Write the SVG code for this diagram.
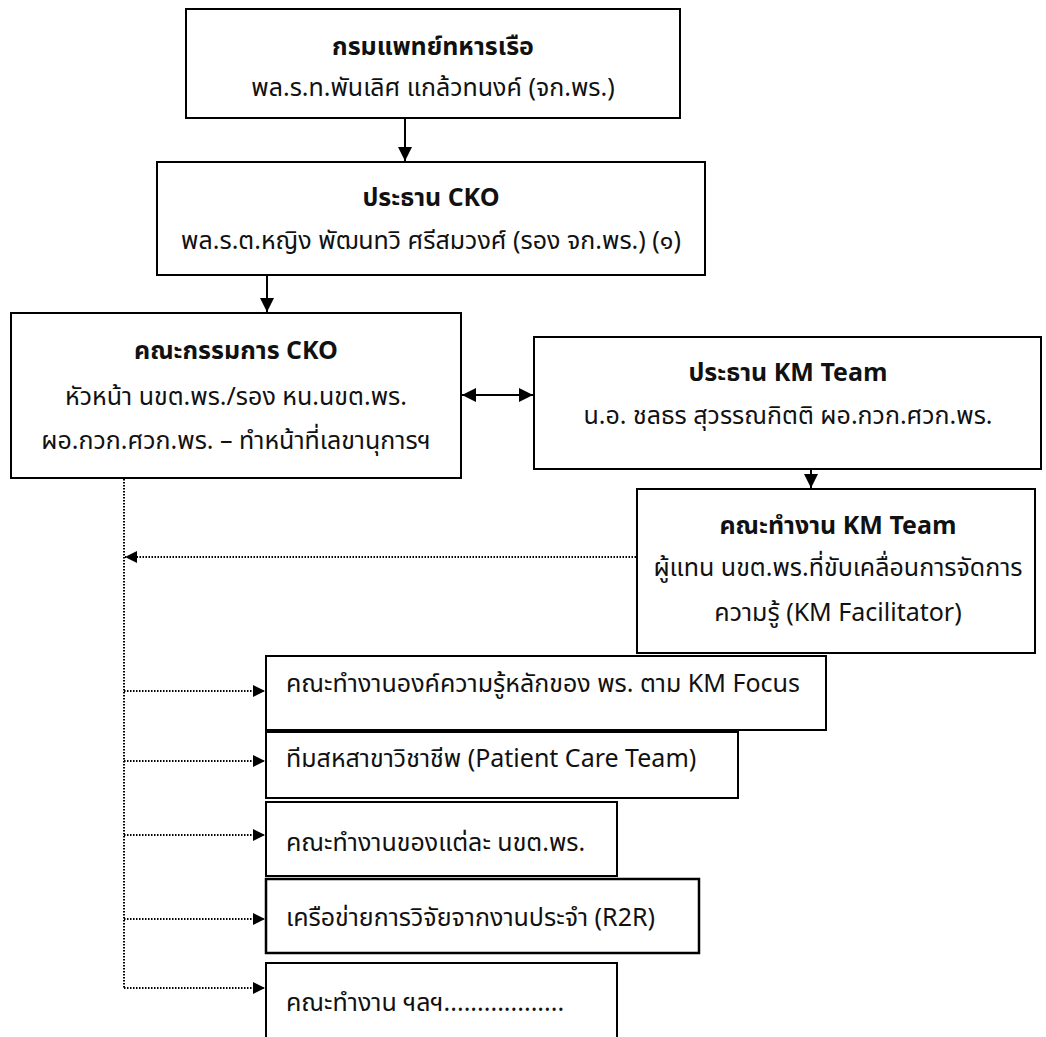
<svg xmlns="http://www.w3.org/2000/svg" width="1046" height="1037" viewBox="0 0 1046 1037">
<style>
  .box{fill:#fff;stroke:#000;stroke-width:2}
  .t{font-family:"Noto Sans Thai","Noto Sans","Open Sans",sans-serif;font-size:25px;fill:#111}
  .b{font-weight:bold}
  .c{text-anchor:middle}
  .solid{stroke:#000;stroke-width:2;fill:none}
  .dot{stroke:#000;stroke-width:2;stroke-dasharray:1.5 1.5;fill:none}
</style>
<defs>
  <marker id="ah" viewBox="0 0 10 10" refX="10" refY="5" markerWidth="7" markerHeight="7" markerUnits="strokeWidth" orient="auto-start-reverse">
    <path d="M0,0 L10,5 L0,10 z" fill="#000"/>
  </marker>
  <marker id="ahd" viewBox="0 0 10 10" refX="10" refY="5" markerWidth="6" markerHeight="6" markerUnits="strokeWidth" orient="auto">
    <path d="M0,0 L10,5 L0,10 z" fill="#000"/>
  </marker>
</defs>

<g id="n1">
  <rect class="box" x="186" y="9" width="494" height="109"/>
  <text class="t b c" x="433" y="55">กรมแพทย์ทหารเรือ</text>
  <text class="t c" x="433" y="96">พล.ร.ท.พันเลิศ  แกล้วทนงค์ (จก.พร.)</text>
</g>
<g id="n2">
  <rect class="box" x="157" y="162" width="548" height="113"/>
  <text class="t b c" x="431" y="206">ประธาน CKO</text>
  <text class="t c" x="431" y="249">พล.ร.ต.หญิง พัฒนทวิ ศรีสมวงศ์ (รอง จก.พร.) (๑)</text>
</g>
<g id="n3">
  <rect class="box" x="11" y="313" width="450" height="165"/>
  <text class="t b c" x="236" y="359">คณะกรรมการ CKO</text>
  <text class="t c" x="236" y="405">หัวหน้า นขต.พร./รอง หน.นขต.พร.</text>
  <text class="t c" x="236" y="449">ผอ.กวก.ศวก.พร. – ทำหน้าที่เลขานุการฯ</text>
</g>
<g id="n4">
  <rect class="box" x="534" y="337" width="507" height="132"/>
  <text class="t b c" x="788" y="381">ประธาน KM Team</text>
  <text class="t c" x="788" y="424">น.อ. ชลธร สุวรรณกิตติ ผอ.กวก.ศวก.พร.</text>
</g>
<g id="n5">
  <rect class="box" x="637" y="489" width="398" height="164"/>
  <text class="t b c" x="838" y="534">คณะทำงาน KM Team</text>
  <text class="t c" x="838" y="576">ผู้แทน นขต.พร.ที่ขับเคลื่อนการจัดการ</text>
  <text class="t c" x="838" y="621">ความรู้ (KM Facilitator)</text>
</g>
<g id="n6">
  <rect class="box" x="266" y="656" width="560" height="74"/>
  <text class="t" x="286" y="692">คณะทำงานองค์ความรู้หลักของ พร. ตาม KM Focus</text>
</g>
<g id="n7">
  <rect class="box" x="266" y="732" width="472" height="66"/>
  <text class="t" x="286" y="767">ทีมสหสาขาวิชาชีพ (Patient Care Team)</text>
</g>
<g id="n8">
  <rect class="box" x="266" y="802" width="351" height="74"/>
  <text class="t" x="286" y="851">คณะทำงานของแต่ละ นขต.พร.</text>
</g>
<g id="n9">
  <rect class="box" x="266" y="879" width="433" height="74" style="stroke-width:2.5"/>
  <text class="t" x="286" y="926">เครือข่ายการวิจัยจากงานประจำ (R2R)</text>
</g>
<g id="n10">
  <path class="box" d="M266,1040 V963 H617 V1040"/>
  <text class="t" x="286" y="1011">คณะทำงาน ฯลฯ..................</text>
</g>

<g id="connectors">
  <line class="solid" x1="405" y1="118" x2="405" y2="161" marker-end="url(#ah)"/>
  <line class="solid" x1="267" y1="275" x2="267" y2="312" marker-end="url(#ah)"/>
  <line class="solid" x1="462" y1="395" x2="533" y2="395" marker-start="url(#ah)" marker-end="url(#ah)"/>
  <line class="solid" x1="811" y1="469" x2="811" y2="488" marker-end="url(#ah)"/>
  <line class="dot" x1="124" y1="479" x2="124" y2="988"/>
  <line class="dot" x1="636" y1="557" x2="125" y2="557" marker-end="url(#ahd)"/>
  <line class="dot" x1="124" y1="691" x2="265" y2="691" marker-end="url(#ahd)"/>
  <line class="dot" x1="124" y1="761" x2="265" y2="761" marker-end="url(#ahd)"/>
  <line class="dot" x1="124" y1="835" x2="265" y2="835" marker-end="url(#ahd)"/>
  <line class="dot" x1="124" y1="919" x2="265" y2="919" marker-end="url(#ahd)"/>
  <line class="dot" x1="124" y1="988" x2="265" y2="988" marker-end="url(#ahd)"/>
</g>
</svg>
